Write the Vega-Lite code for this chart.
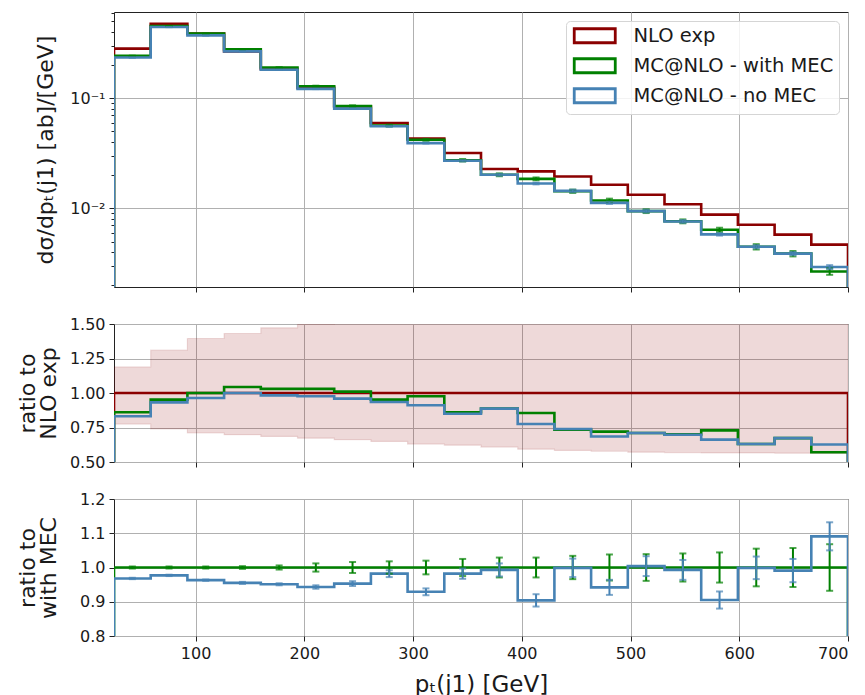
{
  "$schema": "https://vega.github.io/schema/vega-lite/v6.json",
  "background": "white",
  "padding": {"left": 15, "top": 4, "right": 2, "bottom": 0},
  "spacing": 37,
  "bounds": "flush",
  "config": {
    "view": {"stroke": "#222222", "strokeWidth": 1},
    "axis": {"domain": false, "grid": true, "gridColor": "#b0b0b0", "gridWidth": 1, "tickColor": "#222222", "tickSize": 5, "tickWidth": 1, "labelFont": "DejaVu Sans", "labelFontSize": 16, "labelColor": "#1a1a1a", "labelPadding": 4, "labelOverlap": false, "titleFont": "DejaVu Sans", "titleFontSize": 22, "titleFontWeight": "normal", "titleColor": "#1a1a1a"}
  },
  "datasets": {
    "top": [
      {"o": 0, "x": 25, "NLO exp": 0.0001, "MC@NLO - with MEC": 0.0001, "MC@NLO - no MEC": 0.0001},
      {"o": 1, "x": 25, "NLO exp": 0.283, "MC@NLO - with MEC": 0.2434, "MC@NLO - no MEC": 0.2352},
      {"o": 2, "x": 58.75, "NLO exp": 0.477, "MC@NLO - with MEC": 0.4541, "MC@NLO - no MEC": 0.4446},
      {"o": 3, "x": 92.5, "NLO exp": 0.387, "MC@NLO - with MEC": 0.387, "MC@NLO - no MEC": 0.3731},
      {"o": 4, "x": 126.25, "NLO exp": 0.267, "MC@NLO - with MEC": 0.2787, "MC@NLO - no MEC": 0.267},
      {"o": 5, "x": 160, "NLO exp": 0.185, "MC@NLO - with MEC": 0.1906, "MC@NLO - no MEC": 0.1819},
      {"o": 6, "x": 193.75, "NLO exp": 0.125, "MC@NLO - with MEC": 0.1288, "MC@NLO - no MEC": 0.122},
      {"o": 7, "x": 227.5, "NLO exp": 0.0842, "MC@NLO - with MEC": 0.085, "MC@NLO - no MEC": 0.0807},
      {"o": 8, "x": 261.25, "NLO exp": 0.0596, "MC@NLO - with MEC": 0.0567, "MC@NLO - no MEC": 0.0557},
      {"o": 9, "x": 295, "NLO exp": 0.043, "MC@NLO - with MEC": 0.042, "MC@NLO - no MEC": 0.0392},
      {"o": 10, "x": 328.75, "NLO exp": 0.0319, "MC@NLO - with MEC": 0.0274, "MC@NLO - no MEC": 0.0271},
      {"o": 11, "x": 362.5, "NLO exp": 0.0228, "MC@NLO - with MEC": 0.0202, "MC@NLO - no MEC": 0.0202},
      {"o": 12, "x": 396.25, "NLO exp": 0.0217, "MC@NLO - with MEC": 0.01855, "MC@NLO - no MEC": 0.01682},
      {"o": 13, "x": 430, "NLO exp": 0.0195, "MC@NLO - with MEC": 0.01431, "MC@NLO - no MEC": 0.01441},
      {"o": 14, "x": 463.75, "NLO exp": 0.0164, "MC@NLO - with MEC": 0.01181, "MC@NLO - no MEC": 0.01123},
      {"o": 15, "x": 497.5, "NLO exp": 0.0133, "MC@NLO - with MEC": 0.00944, "MC@NLO - no MEC": 0.00944},
      {"o": 16, "x": 531.25, "NLO exp": 0.0109, "MC@NLO - with MEC": 0.00763, "MC@NLO - no MEC": 0.00761},
      {"o": 17, "x": 565, "NLO exp": 0.00877, "MC@NLO - with MEC": 0.00639, "MC@NLO - no MEC": 0.00581},
      {"o": 18, "x": 598.75, "NLO exp": 0.00711, "MC@NLO - with MEC": 0.00448, "MC@NLO - no MEC": 0.00448},
      {"o": 19, "x": 632.5, "NLO exp": 0.00577, "MC@NLO - with MEC": 0.00388, "MC@NLO - no MEC": 0.00388},
      {"o": 20, "x": 666.25, "NLO exp": 0.00468, "MC@NLO - with MEC": 0.00267, "MC@NLO - no MEC": 0.00293},
      {"o": 21, "x": 700, "NLO exp": 0.00468, "MC@NLO - with MEC": 0.00267, "MC@NLO - no MEC": 0.00293},
      {"o": 22, "x": 700, "NLO exp": 0.0001, "MC@NLO - with MEC": 0.0001, "MC@NLO - no MEC": 0.0001}
    ],
    "topErrG": [
      {"c": 41.875, "lo": 0.2427, "hi": 0.2441}, {"c": 75.625, "lo": 0.4527, "hi": 0.4555},
      {"c": 109.375, "lo": 0.3858, "hi": 0.3882}, {"c": 143.125, "lo": 0.2776, "hi": 0.2798},
      {"c": 176.875, "lo": 0.1895, "hi": 0.1917}, {"c": 210.625, "lo": 0.1273, "hi": 0.1303},
      {"c": 244.375, "lo": 0.0836, "hi": 0.0864}, {"c": 278.125, "lo": 0.0557, "hi": 0.0577},
      {"c": 311.875, "lo": 0.0412, "hi": 0.0428}, {"c": 345.625, "lo": 0.0267, "hi": 0.0281},
      {"c": 379.375, "lo": 0.0196, "hi": 0.0208}, {"c": 413.125, "lo": 0.018, "hi": 0.0191},
      {"c": 446.875, "lo": 0.01382, "hi": 0.0148}, {"c": 480.625, "lo": 0.01136, "hi": 0.01226},
      {"c": 514.375, "lo": 0.00907, "hi": 0.00981}, {"c": 548.125, "lo": 0.00732, "hi": 0.00794},
      {"c": 581.875, "lo": 0.00611, "hi": 0.00667}, {"c": 615.625, "lo": 0.00423, "hi": 0.00473},
      {"c": 649.375, "lo": 0.00366, "hi": 0.0041}, {"c": 683.125, "lo": 0.00249, "hi": 0.00285}
    ],
    "topErrB": [
      {"c": 41.875, "lo": 0.2347, "hi": 0.2357}, {"c": 75.625, "lo": 0.4437, "hi": 0.4455},
      {"c": 109.375, "lo": 0.3724, "hi": 0.3738}, {"c": 143.125, "lo": 0.2662, "hi": 0.2678},
      {"c": 176.875, "lo": 0.1814, "hi": 0.1824}, {"c": 210.625, "lo": 0.1214, "hi": 0.1226},
      {"c": 244.375, "lo": 0.0801, "hi": 0.0813}, {"c": 278.125, "lo": 0.0551, "hi": 0.0563},
      {"c": 311.875, "lo": 0.0388, "hi": 0.0396}, {"c": 345.625, "lo": 0.0267, "hi": 0.0275},
      {"c": 379.375, "lo": 0.0198, "hi": 0.0206}, {"c": 413.125, "lo": 0.01652, "hi": 0.01712},
      {"c": 446.875, "lo": 0.01402, "hi": 0.0148}, {"c": 480.625, "lo": 0.01098, "hi": 0.01148},
      {"c": 514.375, "lo": 0.00917, "hi": 0.00971}, {"c": 548.125, "lo": 0.00739, "hi": 0.00783},
      {"c": 581.875, "lo": 0.00566, "hi": 0.00596}, {"c": 615.625, "lo": 0.00433, "hi": 0.00463},
      {"c": 649.375, "lo": 0.00375, "hi": 0.00401}, {"c": 683.125, "lo": 0.00281, "hi": 0.00305}
    ],
    "mid": [
      {"o": 0, "x": 25, "NLO exp": 0, "MC@NLO - with MEC": 0, "MC@NLO - no MEC": 0},
      {"o": 1, "x": 25, "NLO exp": 1, "MC@NLO - with MEC": 0.86, "MC@NLO - no MEC": 0.831},
      {"o": 2, "x": 58.75, "NLO exp": 1, "MC@NLO - with MEC": 0.952, "MC@NLO - no MEC": 0.932},
      {"o": 3, "x": 92.5, "NLO exp": 1, "MC@NLO - with MEC": 1.0, "MC@NLO - no MEC": 0.964},
      {"o": 4, "x": 126.25, "NLO exp": 1, "MC@NLO - with MEC": 1.044, "MC@NLO - no MEC": 1.0},
      {"o": 5, "x": 160, "NLO exp": 1, "MC@NLO - with MEC": 1.03, "MC@NLO - no MEC": 0.983},
      {"o": 6, "x": 193.75, "NLO exp": 1, "MC@NLO - with MEC": 1.03, "MC@NLO - no MEC": 0.976},
      {"o": 7, "x": 227.5, "NLO exp": 1, "MC@NLO - with MEC": 1.01, "MC@NLO - no MEC": 0.959},
      {"o": 8, "x": 261.25, "NLO exp": 1, "MC@NLO - with MEC": 0.952, "MC@NLO - no MEC": 0.935},
      {"o": 9, "x": 295, "NLO exp": 1, "MC@NLO - with MEC": 0.976, "MC@NLO - no MEC": 0.911},
      {"o": 10, "x": 328.75, "NLO exp": 1, "MC@NLO - with MEC": 0.86, "MC@NLO - no MEC": 0.85},
      {"o": 11, "x": 362.5, "NLO exp": 1, "MC@NLO - with MEC": 0.887, "MC@NLO - no MEC": 0.887},
      {"o": 12, "x": 396.25, "NLO exp": 1, "MC@NLO - with MEC": 0.855, "MC@NLO - no MEC": 0.775},
      {"o": 13, "x": 430, "NLO exp": 1, "MC@NLO - with MEC": 0.734, "MC@NLO - no MEC": 0.739},
      {"o": 14, "x": 463.75, "NLO exp": 1, "MC@NLO - with MEC": 0.72, "MC@NLO - no MEC": 0.685},
      {"o": 15, "x": 497.5, "NLO exp": 1, "MC@NLO - with MEC": 0.71, "MC@NLO - no MEC": 0.71},
      {"o": 16, "x": 531.25, "NLO exp": 1, "MC@NLO - with MEC": 0.7, "MC@NLO - no MEC": 0.698},
      {"o": 17, "x": 565, "NLO exp": 1, "MC@NLO - with MEC": 0.729, "MC@NLO - no MEC": 0.662},
      {"o": 18, "x": 598.75, "NLO exp": 1, "MC@NLO - with MEC": 0.63, "MC@NLO - no MEC": 0.63},
      {"o": 19, "x": 632.5, "NLO exp": 1, "MC@NLO - with MEC": 0.673, "MC@NLO - no MEC": 0.673},
      {"o": 20, "x": 666.25, "NLO exp": 1, "MC@NLO - with MEC": 0.571, "MC@NLO - no MEC": 0.627},
      {"o": 21, "x": 700, "NLO exp": 1, "MC@NLO - with MEC": 0.571, "MC@NLO - no MEC": 0.627},
      {"o": 22, "x": 700, "NLO exp": 0, "MC@NLO - with MEC": 0, "MC@NLO - no MEC": 0}
    ],
    "band": [
      {"x": 25, "lo": 0.775, "hi": 1.189}, {"x": 58.75, "lo": 0.739, "hi": 1.31},
      {"x": 92.5, "lo": 0.71, "hi": 1.395}, {"x": 126.25, "lo": 0.698, "hi": 1.431},
      {"x": 160, "lo": 0.685, "hi": 1.472}, {"x": 193.75, "lo": 0.673, "hi": 1.498},
      {"x": 227.5, "lo": 0.662, "hi": 1.53}, {"x": 261.25, "lo": 0.649, "hi": 1.56},
      {"x": 295, "lo": 0.63, "hi": 1.6}, {"x": 328.75, "lo": 0.622, "hi": 1.64},
      {"x": 362.5, "lo": 0.608, "hi": 1.68}, {"x": 396.25, "lo": 0.593, "hi": 1.72},
      {"x": 430, "lo": 0.584, "hi": 1.76}, {"x": 463.75, "lo": 0.578, "hi": 1.8},
      {"x": 497.5, "lo": 0.571, "hi": 1.84}, {"x": 531.25, "lo": 0.568, "hi": 1.88},
      {"x": 565, "lo": 0.566, "hi": 1.92}, {"x": 598.75, "lo": 0.566, "hi": 1.96},
      {"x": 632.5, "lo": 0.564, "hi": 2.0}, {"x": 666.25, "lo": 0.562, "hi": 2.04},
      {"x": 700, "lo": 0.562, "hi": 2.04}
    ],
    "bot": [
      {"o": 0, "x": 25, "MC@NLO - with MEC": 0, "MC@NLO - no MEC": 0},
      {"o": 1, "x": 25, "MC@NLO - with MEC": 1, "MC@NLO - no MEC": 0.968},
      {"o": 2, "x": 58.75, "MC@NLO - with MEC": 1, "MC@NLO - no MEC": 0.977},
      {"o": 3, "x": 92.5, "MC@NLO - with MEC": 1, "MC@NLO - no MEC": 0.963},
      {"o": 4, "x": 126.25, "MC@NLO - with MEC": 1, "MC@NLO - no MEC": 0.955},
      {"o": 5, "x": 160, "MC@NLO - with MEC": 1, "MC@NLO - no MEC": 0.951},
      {"o": 6, "x": 193.75, "MC@NLO - with MEC": 1, "MC@NLO - no MEC": 0.943},
      {"o": 7, "x": 227.5, "MC@NLO - with MEC": 1, "MC@NLO - no MEC": 0.953},
      {"o": 8, "x": 261.25, "MC@NLO - with MEC": 1, "MC@NLO - no MEC": 0.982},
      {"o": 9, "x": 295, "MC@NLO - with MEC": 1, "MC@NLO - no MEC": 0.929},
      {"o": 10, "x": 328.75, "MC@NLO - with MEC": 1, "MC@NLO - no MEC": 0.982},
      {"o": 11, "x": 362.5, "MC@NLO - with MEC": 1, "MC@NLO - no MEC": 0.993},
      {"o": 12, "x": 396.25, "MC@NLO - with MEC": 1, "MC@NLO - no MEC": 0.904},
      {"o": 13, "x": 430, "MC@NLO - with MEC": 1, "MC@NLO - no MEC": 0.999},
      {"o": 14, "x": 463.75, "MC@NLO - with MEC": 1, "MC@NLO - no MEC": 0.942},
      {"o": 15, "x": 497.5, "MC@NLO - with MEC": 1, "MC@NLO - no MEC": 1.004},
      {"o": 16, "x": 531.25, "MC@NLO - with MEC": 1, "MC@NLO - no MEC": 0.993},
      {"o": 17, "x": 565, "MC@NLO - with MEC": 1, "MC@NLO - no MEC": 0.905},
      {"o": 18, "x": 598.75, "MC@NLO - with MEC": 1, "MC@NLO - no MEC": 0.999},
      {"o": 19, "x": 632.5, "MC@NLO - with MEC": 1, "MC@NLO - no MEC": 0.991},
      {"o": 20, "x": 666.25, "MC@NLO - with MEC": 1, "MC@NLO - no MEC": 1.091},
      {"o": 21, "x": 700, "MC@NLO - with MEC": 1, "MC@NLO - no MEC": 1.091},
      {"o": 22, "x": 700, "MC@NLO - with MEC": 0, "MC@NLO - no MEC": 0}
    ],
    "botErrG": [
      {"c": 41.875, "lo": 0.997, "hi": 1.003}, {"c": 75.625, "lo": 0.997, "hi": 1.003},
      {"c": 109.375, "lo": 0.997, "hi": 1.003}, {"c": 143.125, "lo": 0.996, "hi": 1.004},
      {"c": 176.875, "lo": 0.994, "hi": 1.006}, {"c": 210.625, "lo": 0.988, "hi": 1.012},
      {"c": 244.375, "lo": 0.984, "hi": 1.016}, {"c": 278.125, "lo": 0.982, "hi": 1.018},
      {"c": 311.875, "lo": 0.98, "hi": 1.02}, {"c": 345.625, "lo": 0.975, "hi": 1.025},
      {"c": 379.375, "lo": 0.971, "hi": 1.029}, {"c": 413.125, "lo": 0.971, "hi": 1.029},
      {"c": 446.875, "lo": 0.966, "hi": 1.034}, {"c": 480.625, "lo": 0.962, "hi": 1.038},
      {"c": 514.375, "lo": 0.961, "hi": 1.039}, {"c": 548.125, "lo": 0.959, "hi": 1.041},
      {"c": 581.875, "lo": 0.956, "hi": 1.044}, {"c": 615.625, "lo": 0.945, "hi": 1.055},
      {"c": 649.375, "lo": 0.943, "hi": 1.057}, {"c": 683.125, "lo": 0.932, "hi": 1.068}
    ],
    "botErrB": [
      {"c": 41.875, "lo": 0.966, "hi": 0.97}, {"c": 75.625, "lo": 0.975, "hi": 0.979},
      {"c": 109.375, "lo": 0.961, "hi": 0.965}, {"c": 143.125, "lo": 0.952, "hi": 0.958},
      {"c": 176.875, "lo": 0.948, "hi": 0.954}, {"c": 210.625, "lo": 0.938, "hi": 0.948},
      {"c": 244.375, "lo": 0.946, "hi": 0.96}, {"c": 278.125, "lo": 0.972, "hi": 0.992},
      {"c": 311.875, "lo": 0.919, "hi": 0.939}, {"c": 345.625, "lo": 0.967, "hi": 0.997},
      {"c": 379.375, "lo": 0.974, "hi": 1.012}, {"c": 413.125, "lo": 0.886, "hi": 0.922},
      {"c": 446.875, "lo": 0.972, "hi": 1.026}, {"c": 480.625, "lo": 0.92, "hi": 0.964},
      {"c": 514.375, "lo": 0.975, "hi": 1.033}, {"c": 548.125, "lo": 0.964, "hi": 1.022},
      {"c": 581.875, "lo": 0.88, "hi": 0.93}, {"c": 615.625, "lo": 0.966, "hi": 1.032},
      {"c": 649.375, "lo": 0.957, "hi": 1.025}, {"c": 683.125, "lo": 1.05, "hi": 1.132}
    ]
  },
  "resolve": {"scale": {"color": "independent"}, "legend": {"color": "independent"}},
  "vconcat": [
    {
      "width": 734,
      "height": 275,
      "layer": [
        {
          "data": {"name": "top"},
          "transform": [{"fold": ["NLO exp", "MC@NLO - with MEC", "MC@NLO - no MEC"], "as": ["s", "v"]}],
          "mark": {"type": "line", "interpolate": "step-after", "strokeWidth": 2.6, "clip": true},
          "encoding": {
            "x": {"field": "x", "type": "quantitative", "title": null, "scale": {"domain": [25, 700], "nice": false, "zero": false}, "axis": {"values": [100, 200, 300, 400, 500, 600, 700], "labels": false, "title": null}},
            "y": {"field": "v", "type": "quantitative", "title": "dσ/dpₜ(j1) [ab]/[GeV]", "scale": {"type": "log", "domain": [0.00193, 0.609], "nice": false},
              "axis": {
                "values": [0.002, 0.003, 0.004, 0.005, 0.006, 0.007, 0.008, 0.009, 0.01, 0.02, 0.03, 0.04, 0.05, 0.06, 0.07, 0.08, 0.09, 0.1, 0.2, 0.3, 0.4, 0.5, 0.6],
                "labelExpr": "datum.value == 0.1 ? '10⁻¹' : datum.value == 0.01 ? '10⁻²' : ''",
                "gridOpacity": {"condition": {"test": "datum.value == 0.1 || datum.value == 0.01", "value": 1}, "value": 0},
                "tickSize": {"condition": {"test": "datum.value == 0.1 || datum.value == 0.01", "value": 5}, "value": 3},
                "title": "dσ/dpₜ(j1) [ab]/[GeV]",
                "titleX": -62,
                "titleBaseline": "alphabetic"
              }},
            "color": {"field": "s", "type": "nominal",
              "scale": {"domain": ["NLO exp", "MC@NLO - with MEC", "MC@NLO - no MEC"], "range": ["#8b0000", "#008000", "#4682b4"]},
              "legend": {"title": null, "orient": "none", "legendX": 452, "legendY": 9,
                "symbolType": "M-2.93,-1H2.93V1H-2.93Z", "symbolSize": 196, "symbolStrokeWidth": 2.8, "symbolFillColor": "transparent", "symbolOffset": 14,
                "labelFont": "DejaVu Sans", "labelFontSize": 19.5, "labelColor": "#1a1a1a", "labelOffset": 29, "labelLimit": 400,
                "padding": 5, "rowPadding": 4, "strokeColor": "#d5d5d5", "fillColor": "rgba(255,255,255,0.85)", "cornerRadius": 4}},
            "order": {"field": "o", "type": "quantitative"}
          }
        },
        {
          "data": {"name": "topErrG"},
          "mark": {"type": "errorbar", "color": "#008000", "thickness": 2, "ticks": {"size": 7, "thickness": 2}},
          "encoding": {"x": {"field": "c", "type": "quantitative", "title": null}, "y": {"field": "lo", "type": "quantitative", "title": "dσ/dpₜ(j1) [ab]/[GeV]"}, "y2": {"field": "hi"}}
        },
        {
          "data": {"name": "topErrB"},
          "mark": {"type": "errorbar", "color": "#4682b4", "thickness": 2, "ticks": {"size": 7, "thickness": 2}},
          "encoding": {"x": {"field": "c", "type": "quantitative", "title": null}, "y": {"field": "lo", "type": "quantitative", "title": "dσ/dpₜ(j1) [ab]/[GeV]"}, "y2": {"field": "hi"}}
        }
      ]
    },
    {
      "width": 734,
      "height": 138,
      "layer": [
        {
          "data": {"name": "band"},
          "mark": {"type": "area", "interpolate": "step-after", "fill": "#8b0000", "fillOpacity": 0.15, "stroke": "#8b0000", "strokeOpacity": 0.12, "strokeWidth": 1.2, "clip": true},
          "encoding": {
            "x": {"field": "x", "type": "quantitative", "title": null, "scale": {"domain": [25, 700], "nice": false, "zero": false}, "axis": {"values": [100, 200, 300, 400, 500, 600, 700], "labels": false, "title": null}},
            "y": {"field": "lo", "type": "quantitative", "title": ["ratio to", "NLO exp"], "scale": {"domain": [0.5, 1.5], "nice": false, "zero": false},
              "axis": {"values": [0.5, 0.75, 1.0, 1.25, 1.5], "format": ".2f", "labelOverlap": false, "title": ["ratio to", "NLO exp"], "titleX": -80, "titleBaseline": "alphabetic", "titleLineHeight": 21}},
            "y2": {"field": "hi"}
          }
        },
        {
          "data": {"name": "mid"},
          "transform": [{"fold": ["NLO exp", "MC@NLO - with MEC", "MC@NLO - no MEC"], "as": ["s", "v"]}],
          "mark": {"type": "line", "interpolate": "step-after", "strokeWidth": 2.6, "clip": true},
          "encoding": {
            "x": {"field": "x", "type": "quantitative", "title": null, "axis": {"values": [100, 200, 300, 400, 500, 600, 700], "labels": false, "title": null}},
            "y": {"field": "v", "type": "quantitative", "title": ["ratio to", "NLO exp"],
              "axis": {"values": [0.5, 0.75, 1.0, 1.25, 1.5], "format": ".2f", "labelOverlap": false, "title": ["ratio to", "NLO exp"], "titleX": -80, "titleBaseline": "alphabetic", "titleLineHeight": 21}},
            "color": {"field": "s", "type": "nominal", "scale": {"domain": ["NLO exp", "MC@NLO - with MEC", "MC@NLO - no MEC"], "range": ["#8b0000", "#008000", "#4682b4"]}, "legend": null},
            "order": {"field": "o", "type": "quantitative"}
          }
        }
      ]
    },
    {
      "width": 734,
      "height": 137,
      "layer": [
        {
          "data": {"name": "bot"},
          "transform": [{"fold": ["MC@NLO - with MEC", "MC@NLO - no MEC"], "as": ["s", "v"]}],
          "mark": {"type": "line", "interpolate": "step-after", "strokeWidth": 2.6, "clip": true},
          "encoding": {
            "x": {"field": "x", "type": "quantitative", "title": "pₜ(j1) [GeV]", "scale": {"domain": [25, 700], "nice": false, "zero": false},
              "axis": {"values": [100, 200, 300, 400, 500, 600, 700], "title": "pₜ(j1) [GeV]", "titleFontSize": 23, "titleY": 55, "titleBaseline": "alphabetic"}},
            "y": {"field": "v", "type": "quantitative", "title": ["ratio to", "with MEC"], "scale": {"domain": [0.8, 1.2], "nice": false, "zero": false},
              "axis": {"values": [0.8, 0.9, 1.0, 1.1, 1.2], "format": ".1f", "labelOverlap": false, "title": ["ratio to", "with MEC"], "titleX": -80, "titleBaseline": "alphabetic", "titleLineHeight": 21}},
            "color": {"field": "s", "type": "nominal", "scale": {"domain": ["MC@NLO - with MEC", "MC@NLO - no MEC"], "range": ["#008000", "#4682b4"]}, "legend": null},
            "order": {"field": "o", "type": "quantitative"}
          }
        },
        {
          "data": {"name": "botErrG"},
          "mark": {"type": "errorbar", "color": "#008000", "thickness": 2, "ticks": {"size": 7, "thickness": 2}},
          "encoding": {
            "x": {"field": "c", "type": "quantitative", "title": "pₜ(j1) [GeV]", "axis": {"values": [100, 200, 300, 400, 500, 600, 700], "title": "pₜ(j1) [GeV]", "titleFontSize": 23, "titleY": 55, "titleBaseline": "alphabetic"}},
            "y": {"field": "lo", "type": "quantitative", "title": ["ratio to", "with MEC"], "axis": {"values": [0.8, 0.9, 1.0, 1.1, 1.2], "format": ".1f", "labelOverlap": false, "title": ["ratio to", "with MEC"], "titleX": -80, "titleBaseline": "alphabetic", "titleLineHeight": 21}},
            "y2": {"field": "hi"}}
        },
        {
          "data": {"name": "botErrB"},
          "mark": {"type": "errorbar", "color": "#4682b4", "thickness": 2, "ticks": {"size": 7, "thickness": 2}},
          "encoding": {
            "x": {"field": "c", "type": "quantitative", "title": "pₜ(j1) [GeV]", "axis": {"values": [100, 200, 300, 400, 500, 600, 700], "title": "pₜ(j1) [GeV]", "titleFontSize": 23, "titleY": 55, "titleBaseline": "alphabetic"}},
            "y": {"field": "lo", "type": "quantitative", "title": ["ratio to", "with MEC"], "axis": {"values": [0.8, 0.9, 1.0, 1.1, 1.2], "format": ".1f", "labelOverlap": false, "title": ["ratio to", "with MEC"], "titleX": -80, "titleBaseline": "alphabetic", "titleLineHeight": 21}},
            "y2": {"field": "hi"}}
        }
      ]
    }
  ]
}
